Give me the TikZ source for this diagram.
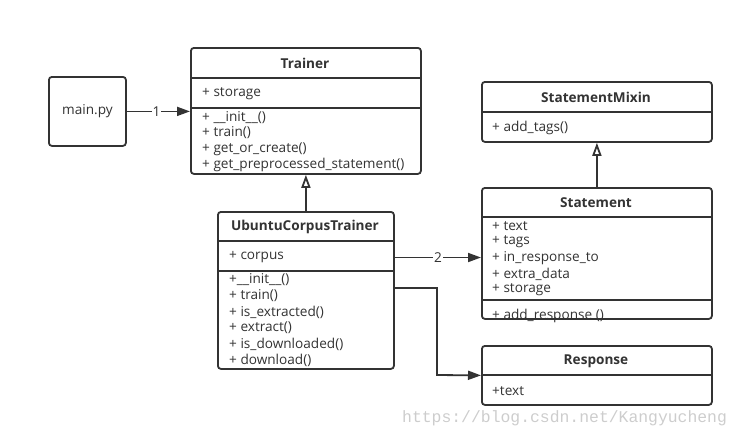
\documentclass[tikz,border=0pt]{standalone}
\usepackage{fontspec}
\setmainfont{Open Sans}
\newfontfamily\wmfont{Liberation Mono}
\usetikzlibrary{arrows.meta}
\definecolor{ink}{RGB}{51,51,51}
\definecolor{wm}{RGB}{205,205,205}
\tikzset{
  cls/.style={draw=ink, line width=1.8pt, rounded corners=3pt, anchor=north west, inner sep=0pt, fill=white},
  divider/.style={draw=ink, line width=1.8pt},
  ttl/.style={font=\fontsize{13.6}{14}\selectfont\bfseries, text=ink, inner sep=0pt},
  itm/.style={font=\fontsize{13.6}{14}\selectfont, text=ink, anchor=west, inner sep=0pt},
  conn/.style={draw=ink, line width=1.8pt},
  assoc/.style={conn, -{Triangle[length=13pt, width=9pt]}},
  gen/.style={conn, -{Triangle[open, length=13pt, width=9pt, fill=white]}},
  lbl/.style={fill=white, inner sep=1pt, font=\fontsize{13.6}{14}\selectfont, text=ink}
}
\begin{document}
\begin{tikzpicture}[x=1pt, y=-1pt]
\useasboundingbox (0,0) rectangle (742,437);

% main.py
\node[cls, minimum width=77pt, minimum height=69pt] (main) at (48,76) {};
\node[itm, anchor=center] (maintxt) at (main.center) {main.py};

% Trainer
\node[cls, minimum width=230pt, minimum height=126pt] (trainer) at (190,47) {};
\draw[divider] (trainer.west |- 0,78) -- (trainer.east |- 0,78);
\draw[divider] (trainer.west |- 0,108) -- (trainer.east |- 0,108);
\node[ttl] (trainerttl) at (305,63) {Trainer};
\node[itm] (t1) at (202,94) {+ storage};
\node[itm] (t2) at (202,118) {+ \_\_init\_\_()};
\node[itm] (t3) at (202,133) {+ train()};
\node[itm] (t4) at (202,149) {+ get\_or\_create()};
\node[itm] (t5) at (202,164.5) {+ get\_preprocessed\_statement()};

% UbuntuCorpusTrainer
\node[cls, minimum width=176pt, minimum height=157pt] (uct) at (217,211) {};
\draw[divider] (uct.west |- 0,241) -- (uct.east |- 0,241);
\draw[divider] (uct.west |- 0,271) -- (uct.east |- 0,271);
\node[ttl] (uctttl) at (305,227) {UbuntuCorpusTrainer};
\node[itm] (corpus) at (229,257.5) {+ corpus};
\node[itm] (u1) at (229,280) {+\_\_init\_\_()};
\node[itm] (u2) at (229,296) {+ train()};
\node[itm] (u3) at (229,312) {+ is\_extracted()};
\node[itm] (u4) at (229,328) {+ extract()};
\node[itm] (u5) at (229,344) {+ is\_downloaded()};
\node[itm] (u6) at (229,360) {+ download()};

% StatementMixin
\node[cls, minimum width=230pt, minimum height=60pt] (mixin) at (481,81) {};
\draw[divider] (mixin.west |- 0,112) -- (mixin.east |- 0,112);
\node[ttl] (mixinttl) at (596,97) {StatementMixin};
\node[itm] (m1) at (492,127.5) {+ add\_tags()};

% Statement
\node[cls, minimum width=230pt, minimum height=131pt] (stmt) at (481,187) {};
\draw[divider] (stmt.west |- 0,217) -- (stmt.east |- 0,217);
\draw[divider] (stmt.west |- 0,300) -- (stmt.east |- 0,300);
\node[ttl] (stmtttl) at (596,203) {Statement};
\node[itm] (s1) at (492,226) {+ text};
\node[itm] (s2) at (492,242) {+ tags};
\node[itm] (s3) at (492,258) {+ in\_response\_to};
\node[itm] (s4) at (492,274) {+ extra\_data};
\node[itm] (s5) at (492,290) {+ storage};
\node[itm] (s6) at (492,316) {+ add\_response ()};

% Response
\node[cls, minimum width=230pt, minimum height=59pt] (resp) at (481,345) {};
\draw[divider] (resp.west |- 0,375) -- (resp.east |- 0,375);
\node[ttl] (respttl) at (596,361) {Response};
\node[itm] (r1) at (492,391.5) {+text};

% connectors
\draw[assoc] (main.east) -- (main.east -| trainer.west) node[lbl, pos=0.47] {1};
\draw[gen] (uct.north) -- (trainer.south);
\draw[gen] (stmt.north) -- (mixin.south);
\draw[assoc] (corpus -| uct.east) -- (corpus -| stmt.west) node[lbl, pos=0.5] {2};
\coordinate (rstart) at (393,288);
\draw[assoc] (rstart) -| (437,375) -- (resp.west);

% watermark
\node[font=\wmfont\fontsize{16.4}{17}\selectfont, text=wm, anchor=west, inner sep=0pt] (wmark) at (402,418) {https://blog.csdn.net/Kangyucheng};
\end{tikzpicture}
\end{document}
